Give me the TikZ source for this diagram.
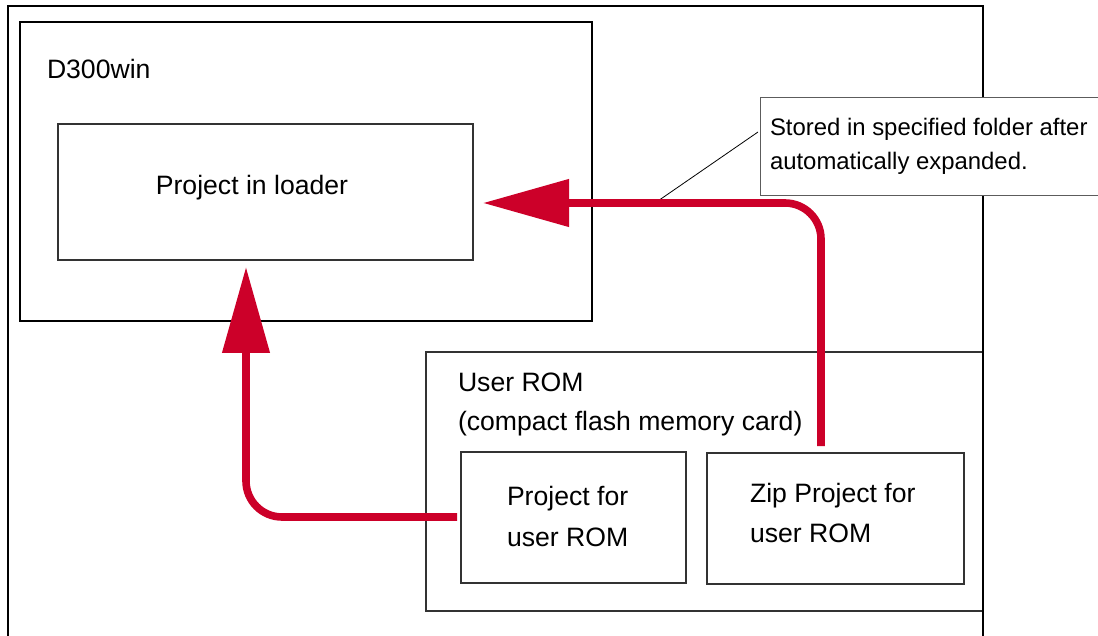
\documentclass[tikz,border=0pt]{standalone}
\usepackage{fontspec}
\setmainfont{Liberation Sans}
\usetikzlibrary{arrows.meta}
\definecolor{flowred}{HTML}{CC0029}
\definecolor{thinline}{HTML}{333333}
\tikzset{
  box/.style={draw, rectangle, anchor=north west, inner sep=0pt, outer sep=0pt},
  thickbox/.style={box, line width=1.2pt},
  outerbox/.style={box, line width=1pt},
  thinbox/.style={box, line width=0.6pt, draw=thinline},
  callbox/.style={box, line width=0.5pt, draw=thinline!80, fill=white},
  lbl/.style={inner sep=0pt, outer sep=0pt, font=\fontsize{13.3pt}{16pt}\selectfont},
  clbl/.style={inner sep=0pt, outer sep=0pt, font=\fontsize{11.95pt}{14pt}\selectfont},
  flow/.style={draw=flowred, line width=3.8pt, rounded corners=18pt,
    -{Triangle[length=43pt,width=23pt]}},
  leader/.style={draw=black, line width=0.4pt}
}
\begin{document}
\begin{tikzpicture}[x=0.5pt,y=-0.5pt]
\path[use as bounding box] (0,0) rectangle (1098,636);
\clip (0,0) rectangle (1098,636);
\fill[white] (0,0) rectangle (1098,636);
% boxes
\node[thinbox, minimum width=278.5pt, minimum height=129.5pt] (rom) at (426,352) {};
\node[outerbox, minimum width=487.5pt, minimum height=350pt] (outer) at (8,6) {};
\node[thickbox, minimum width=286pt, minimum height=149.5pt] (d300) at (20,22) {};
\node[thinbox, minimum width=207.5pt, minimum height=68pt] (loader) at (58,124) {};
\node[thinbox, minimum width=112.5pt, minimum height=65.5pt] (pfu) at (461,452) {};
\node[thinbox, minimum width=128.5pt, minimum height=65.5pt] (zip) at (707,453) {};
\node[callbox, minimum width=180pt, minimum height=49pt] (call) at (760,98) {};
% texts
\node[lbl, anchor=base west] (t-d300) at (47,79) {D300win};
\node[lbl, anchor=base] (t-loader) at (252,195) {Project in loader};
\node[lbl, anchor=base west] (t-rom1) at (458,392) {User ROM};
\node[lbl, anchor=base west] (t-rom2) at (458,430) {(compact flash memory card)};
\node[lbl, anchor=base west] (t-pfu1) at (507,505) {Project for};
\node[lbl, anchor=base west] (t-pfu2) at (507,546) {user ROM};
\node[lbl, anchor=base west] (t-zip1) at (750,502) {Zip Project for};
\node[lbl, anchor=base west] (t-zip2) at (750,542) {user ROM};
\node[clbl, anchor=base west] (t-c1) at (770,136) {Stored in specified folder after};
\node[clbl, anchor=base west] (t-c2) at (770,170) {automatically expanded.};
% connector coordinates
\coordinate (z-start) at (821,446);
\coordinate (z-bend) at (821,203);
\coordinate (l-tip) at (483,203);
\coordinate (p-start) at (457,517);
\coordinate (p-bend) at (246,517);
\coordinate (u-tip) at (246,267);
\coordinate (lead-a) at (655,203);
\coordinate (lead-b) at (758,132);
% leader line
\draw[leader] (lead-a) -- (lead-b);
% flows
\draw[flow] (z-start) -- (z-bend) -- (l-tip);
\draw[flow] (p-start) -- (p-bend) -- (u-tip);
\end{tikzpicture}
\end{document}
